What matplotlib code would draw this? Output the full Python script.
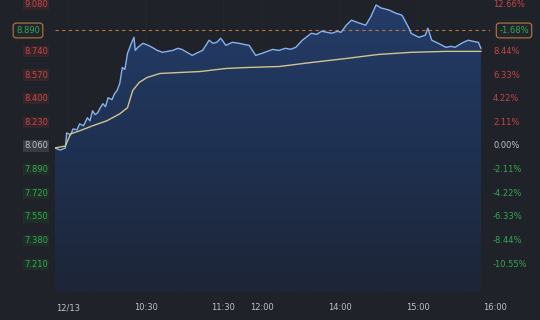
import numpy as np
import matplotlib
matplotlib.use("Agg")
import matplotlib.pyplot as plt
import matplotlib.transforms as mtransforms
from matplotlib.patches import Polygon

# minutes from the 9:30 open (lunch break removed), price
price_t = [-10, -6, -2, -1, 2, 4, 7, 9, 12, 15, 17, 19, 21, 23, 25, 27, 29, 31, 34, 36, 38,
           40, 42, 44, 46, 49, 51, 52, 54, 58, 62, 65, 69, 73, 77, 81, 85, 88, 92, 96, 100,
           104, 107, 109, 112, 115, 118, 122, 127, 132, 136, 140, 145, 150, 154, 158, 163,
           168, 172, 176, 181, 185, 188, 192, 196, 200, 204, 208, 211, 215, 219, 225, 230,
           234, 238, 242, 248, 253, 258, 263, 265, 271, 276, 278, 281, 286, 292, 296, 299,
           304, 309, 313, 317, 319]
price = [8.046, 8.031, 8.046, 8.154, 8.140, 8.183, 8.176, 8.219, 8.205, 8.263, 8.241, 8.313,
         8.285, 8.299, 8.335, 8.364, 8.342, 8.407, 8.393, 8.436, 8.460, 8.509, 8.624, 8.610,
         8.726, 8.798, 8.841, 8.747, 8.769, 8.798, 8.783, 8.769, 8.747, 8.733, 8.740, 8.747,
         8.762, 8.754, 8.733, 8.711, 8.730, 8.747, 8.790, 8.820, 8.798, 8.805, 8.834, 8.783,
         8.805, 8.798, 8.790, 8.783, 8.711, 8.726, 8.740, 8.754, 8.747, 8.762, 8.755, 8.769,
         8.820, 8.848, 8.870, 8.862, 8.885, 8.877, 8.870, 8.884, 8.877, 8.928, 8.964, 8.943,
         8.928, 8.990, 9.073, 9.051, 9.037, 9.015, 9.000, 8.914, 8.870, 8.841, 8.856, 8.906,
         8.820, 8.798, 8.769, 8.776, 8.769, 8.798, 8.820, 8.812, 8.805, 8.762]

avg_t = [-10, -2, 2, 9, 19, 30, 40, 46, 50, 55, 61, 71, 86, 102, 122, 138, 163, 188, 215,
         240, 265, 292, 319]
avg = [8.046, 8.060, 8.147, 8.169, 8.205, 8.241, 8.291, 8.335, 8.458, 8.516, 8.552, 8.581,
       8.588, 8.595, 8.617, 8.624, 8.631, 8.660, 8.689, 8.718, 8.733, 8.740, 8.740]

base = 8.060
ref_price = 8.890
ref_label = "8.890"
ref_pct = "-1.68%"
# 8.910 / 10.55% sit under the reference-price boxes, so they are not shown
price_ticks = [9.080, 8.740, 8.570, 8.400, 8.230, 8.060, 7.890, 7.720, 7.550, 7.380, 7.210]
pct_ticks = ["12.66%", "8.44%", "6.33%", "4.22%", "2.11%", "0.00%",
             "-2.11%", "-4.22%", "-6.33%", "-8.44%", "-10.55%"]
time_pos = [0, 60, 120, 150, 210, 270, 330]
time_labels = ["12/13", "10:30", "11:30", "12:00", "14:00", "15:00", "16:00"]

BG = "#1f2228"
RED = "#c94644"
GREEN = "#34a852"
GREY = "#bfc2c8"

fig = plt.figure(figsize=(5.4, 3.2), dpi=100, facecolor=BG)
ax = fig.add_axes([55 / 540, 1 - 292 / 320, 435 / 540, 292 / 320])
ax.set_facecolor(BG)
ax.set_xlim(-10, 326)
ax.set_ylim(7.011, 9.109)
for s in ax.spines.values():
    s.set_visible(False)
ax.set_xticks([])
ax.set_yticks([])

for xp in time_pos:
    ax.axvline(xp, color="#24272e", lw=0.6, zorder=0)

# gradient fill under the price line
verts = [(price_t[0], 7.011)] + list(zip(price_t, price)) + [(price_t[-1], 7.011)]
poly = Polygon(verts, closed=True, facecolor="none", edgecolor="none")
ax.add_patch(poly)
grad = np.linspace(0, 1, 256).reshape(-1, 1)
cmap = matplotlib.colors.LinearSegmentedColormap.from_list(
    "g", ["#1d2536", "#1f3152", "#243c68"])
im = ax.imshow(grad, cmap=cmap, aspect="auto", origin="lower",
               extent=[price_t[0], price_t[-1], 7.011, 9.08], zorder=1)
im.set_clip_path(poly)

ax.plot(price_t, price, color="#86b2ee", lw=1.0, zorder=3)
ax.plot(avg_t, avg, color="#d3c48c", lw=1.0, zorder=3)
ax.axhline(ref_price, color="#b87a3a", lw=0.8, ls=(0, (3, 3)), zorder=2)

ytrans = mtransforms.blended_transform_factory(fig.transFigure, ax.transData)
for p, lab in zip(price_ticks, pct_ticks):
    if p > base + 1e-6:
        c, bc = RED, "#34252a"
    elif p < base - 1e-6:
        c, bc = GREEN, "#1f2f28"
    else:
        c, bc = GREY, "#383b42"
    fig.text(48 / 540, p, "%.3f" % p, transform=ytrans, ha="right", va="center",
             fontsize=6, color=c,
             bbox=dict(boxstyle="square,pad=0.15", fc=bc, ec="none"))
    fig.text(493 / 540, p, lab, transform=ytrans, ha="left", va="center",
             fontsize=6, color=c)

box = dict(boxstyle="round,pad=0.35", fc="#22262c", ec="#b87a3a", lw=0.8)
fig.text(28 / 540, ref_price, ref_label, transform=ytrans, ha="center", va="center",
         fontsize=6, color=GREEN, bbox=box)
fig.text(514 / 540, ref_price, ref_pct, transform=ytrans, ha="center", va="center",
         fontsize=6, color=GREEN, bbox=box)

xtrans = mtransforms.blended_transform_factory(ax.transData, fig.transFigure)
for xp, lab in zip(time_pos, time_labels):
    fig.text(xp, 1 - 308 / 320, lab, transform=xtrans, ha="center", va="center",
             fontsize=6, color=GREY)

fig.savefig("out.png", dpi=100, facecolor=BG)
